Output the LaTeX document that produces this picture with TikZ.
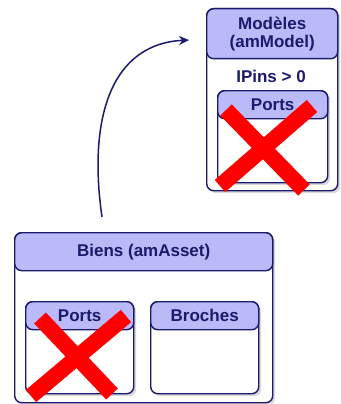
\documentclass[tikz,border=0pt]{standalone}
\usepackage{fontspec}
\setmainfont{Liberation Sans}
\usetikzlibrary{arrows.meta, positioning, shadows}
\definecolor{navy}{HTML}{1A1A6E}
\definecolor{lavender}{HTML}{BABAF8}

\begin{document}
\begin{tikzpicture}[x=1pt, y=-1pt,
    font=\fontsize{17}{18}\selectfont\bfseries,
    kotak/.style={draw=navy, line width=1.4pt, fill=white, rounded corners=7pt,
                  anchor=north west, inner sep=0pt,
                  drop shadow={shadow xshift=2.5pt, shadow yshift=-2.5pt,
                               opacity=0.3, fill=gray}},
    kepala/.style={draw=navy, line width=1.4pt, fill=lavender, rounded corners=7pt,
                   anchor=north west, inner sep=0pt, text=navy, align=center},
    silang/.style={red, line width=16pt}
  ]
    \useasboundingbox (0,0) rectangle (340,404);

    % Modeles
    \node[kotak, minimum width=131pt, minimum height=182pt] (model) at (206,8) {};
    \node[kepala, minimum width=131pt, minimum height=50pt] (modelhead) at (206,8)
      {Mod\`eles\\(amModel)};
    \node[text=navy] (ipins) at (271,76) {IPins > 0};
    \node[kotak, minimum width=110pt, minimum height=92pt] (mport) at (217,90) {};
    \node[kepala, minimum width=110pt, minimum height=28pt] (mporthead) at (217,90) {Ports};
    \draw[silang] (220,186) -- (312,106);
    \draw[silang] (226,110) -- (304,190);

    % Biens
    \node[kotak, minimum width=258pt, minimum height=170pt] (asset) at (14,232) {};
    \node[kepala, minimum width=258pt, minimum height=38pt] (assethead) at (14,232)
      {Biens (amAsset)};
    \node[kotak, minimum width=108pt, minimum height=92pt] (aport) at (25,301) {};
    \node[kepala, minimum width=108pt, minimum height=28pt] (aporthead) at (25,301) {Ports};
    \node[kotak, minimum width=108pt, minimum height=92pt] (apin) at (150,301) {};
    \node[kepala, minimum width=108pt, minimum height=28pt] (apinhead) at (150,301) {Broches};
    \draw[silang] (31,396) -- (126,316);
    \draw[silang] (40,318) -- (112,394);

    % relation
    \coordinate (src) at (102,217);
    \coordinate (dst) at (189,40);
    \draw[navy, line width=1.5pt, -{Stealth[length=10pt, width=9pt]}]
      (src) .. controls (88,120) and (110,44) .. (dst);
  \end{tikzpicture}
\end{document}
